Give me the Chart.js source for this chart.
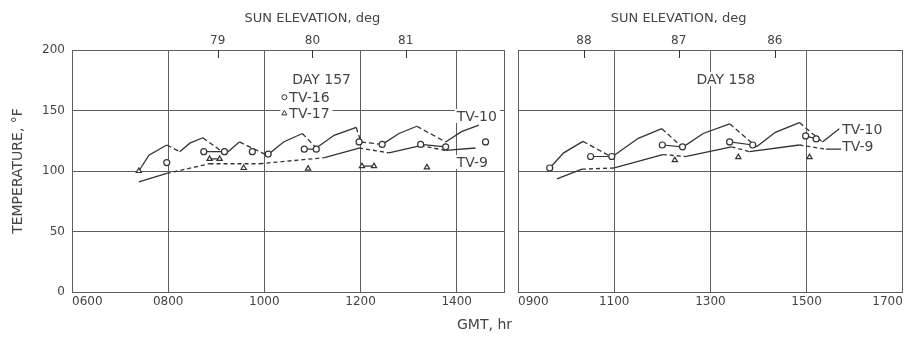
<!DOCTYPE html>
<html>
<head>
<meta charset="utf-8">
<script src="https://cdn.jsdelivr.net/npm/chart.js@4.4.0/dist/chart.umd.min.js"></script>
<style>
  body { margin: 0; background: #fff; }
  #wrap { position: relative; width: 908px; height: 337px; font-family: "DejaVu Sans", sans-serif; color: #444; }
  .panel { position: absolute; top: 0; height: 337px; }
  #gmt { position: absolute; left: 457px; top: 316px; font-size: 14px; }
</style>
</head>
<body>
<div id="wrap">
  <div class="panel" style="left:0;width:510px"><canvas id="day157" width="510" height="337"></canvas></div>
  <div class="panel" style="left:510px;width:398px"><canvas id="day158" width="398" height="337"></canvas></div>
  <div id="gmt">GMT, hr</div>
</div>
<script>
// GMT in hours (0800 -> 8). null temperature = no reading, bridged with a dashed line
const gmtTicks157 = [6, 8, 10, 12, 14];
const gmtTicks158 = [9, 11, 13, 15, 17];
const tempTicks = [0, 50, 100, 150, 200];

// sun elevation ticks (top axis)
const sunHours157 = [9.03, 11.0, 12.94];
const sunLabels157 = ['79', '80', '81'];
const sunHours158 = [10.37, 12.34, 14.34];
const sunLabels158 = ['88', '87', '86'];

// day 157
const tv10Hours157 = [7.39, 7.6, 7.97, 8.10, 8.24, 8.45, 8.72, 8.95, 9.19, 9.48, 9.77, 10.06, 10.4, 10.79, 10.93, 11.08, 11.45, 11.91, 11.96, 12.01, 12.23, 12.45, 12.8, 13.17, 13.47, 13.77, 14.1, 14.46];
const tv10Temps157 = [100, 113, 121.5, null, 116, 123, 127.5, null, 114, 124, null, 113, 124, 131, null, 119, 129.5, 136, null, 124, null, 122, 131, 137, null, 124, 132.5, 138];
const tv9Hours157 = [7.39, 7.97, 8.4, 8.86, 9.4, 9.9, 10.6, 11.25, 11.97, 12.28, 12.59, 13.25, 13.5, 13.77, 14.39];
const tv9Temps157 = [91, 98, null, 106, null, 106, null, 111, 119, null, 115, 121, null, 117, 119];
const tv16Hours157 = [7.97, null, 8.74, 9.17, null, 9.75, null, 10.08, null, 10.83, 11.08, null, 11.97, null, 12.45, null, 13.25, 13.77, null, 14.6];
const tv16Temps157 = [107, null, 116, 116, null, 116, null, 114, null, 118, 118, null, 124, null, 122, null, 122, 120, null, 124];
const tv17Hours157 = [7.39, null, 8.86, 9.07, null, 9.57, null, 10.91, null, 12.03, 12.28, null, 13.38];
const tv17Temps157 = [100, null, 110, 110, null, 102.5, null, 102, null, 104, 104, null, 103];

// day 158
const tv10Hours158 = [9.66, 9.95, 10.35, 10.65, 10.95, 11.5, 11.99, 12.2, 12.42, 12.85, 13.4, 13.68, 13.96, 14.35, 14.85, 15.1, 15.33, 15.68];
const tv10Temps158 = [102.5, 115, 124.5, null, 111.5, 127, 135, null, 119.5, 131, 139, null, 120, 132, 140, null, 124, 135];
const tv9Hours158 = [9.81, 10.33, 10.66, 11.0, 12.01, 12.25, 12.5, 13.44, 13.62, 13.81, 14.85, 15.1, 15.4, 15.72];
const tv9Temps158 = [93.5, 101.5, null, 102.5, 113.5, null, 112, 120, null, 116, 121.5, null, 118, 118];
const tv16Hours158 = [9.66, null, 10.51, 10.95, null, 12.0, 12.42, null, 13.4, 13.88, null, 14.98, 15.2];
const tv16Temps158 = [102.5, null, 112, 112, null, 121.5, 120, null, 124, 121.5, null, 129, 126.5];
const tv17Hours158 = [12.26, 13.58, 15.06];
const tv17Temps158 = [109, 111.5, 111.5];

const ink = '#333';
const gridInk = '#5e5e5e';
const textInk = '#444';
const font = '"DejaVu Sans", sans-serif';

const pts = (hours, temps) => hours.map((h, i) => ({ x: h, y: temps[i] }));
const hhmm = v => String(Math.round(v * 100)).padStart(4, '0');

// measured stretches solid, gaps between them dashed
function curve(hours, temps, dash) {
  const bridges = [];
  temps.forEach((t, i) => {
    if (t === null && i > 0 && i < temps.length - 1) {
      bridges.push({ x: hours[i - 1], y: temps[i - 1] }, { x: hours[i + 1], y: temps[i + 1] }, { x: hours[i], y: null });
    }
  });
  const base = { borderColor: ink, borderWidth: 1.3, pointRadius: 0, tension: 0, spanGaps: false };
  return [
    Object.assign({ data: pts(hours, temps) }, base),
    Object.assign({ data: bridges, borderDash: dash }, base)
  ];
}
function marks(hours, temps, style, joined) {
  return {
    data: pts(hours, temps), borderColor: ink, borderWidth: 1.2, backgroundColor: '#fff',
    pointStyle: style, pointRadius: 3, pointBorderWidth: 1.2, showLine: joined, spanGaps: false
  };
}

const decor = {
  id: 'decor',
  beforeDatasetsDraw(chart, args, o) {
    const { ctx, chartArea } = chart;
    const { x, y, x2 } = chart.scales;
    ctx.save();
    ctx.strokeStyle = ink;
    ctx.lineWidth = 1;
    x2.ticks.forEach(t => {
      const px = Math.round(x2.getPixelForValue(t.value)) + 0.5;
      ctx.beginPath();
      ctx.moveTo(px, chartArea.top);
      ctx.lineTo(px, chartArea.top + 8);
      ctx.stroke();
    });
    ctx.fillStyle = textInk;
    ctx.font = '13px ' + font;
    ctx.textAlign = 'center';
    ctx.textBaseline = 'middle';
    ctx.fillText('SUN ELEVATION, deg', x2.getPixelForValue(o.sunCenter), 19);

    ctx.font = '14px ' + font;
    ctx.textAlign = 'left';
    o.notes.forEach(n => {
      const px = x.getPixelForValue(n.x);
      const py = y.getPixelForValue(n.y);
      const w = ctx.measureText(n.text).width;
      const left = n.symbol ? px - 9 : px - 2;
      ctx.fillStyle = '#fff';
      ctx.fillRect(left, py - 7, px + w + 3 - left, 14);
      ctx.fillStyle = textInk;
      ctx.fillText(n.text, px, py + 1);
      if (n.symbol) {
        ctx.beginPath();
        if (n.symbol === 'circle') {
          ctx.arc(px - 5, py, 2.5, 0, Math.PI * 2);
        } else {
          ctx.moveTo(px - 5, py - 2.5);
          ctx.lineTo(px - 2.5, py + 2);
          ctx.lineTo(px - 7.5, py + 2);
          ctx.closePath();
        }
        ctx.stroke();
      }
    });
    ctx.restore();
  }
};

function build(id, cfg) {
  const min = cfg.gmt[0];
  const max = cfg.max;
  new Chart(document.getElementById(id), {
    type: 'line',
    data: { datasets: cfg.datasets },
    plugins: [decor],
    options: {
      responsive: false,
      animation: false,
      events: [],
      layout: { padding: { left: 0, right: 5, top: 0, bottom: 0 } },
      plugins: { legend: { display: false }, tooltip: { enabled: false }, decor: cfg.decor },
      scales: {
        x: {
          type: 'linear', position: 'bottom', min: min, max: max,
          afterBuildTicks: s => { s.ticks = [...new Set([...cfg.gmt, max])].map(v => ({ value: v })); },
          ticks: {
            autoSkip: false, maxRotation: 0, align: 'inner', padding: 3, color: textInk,
            font: { family: font, size: 12 },
            callback: v => cfg.gmt.includes(v) ? hhmm(v) : ''
          },
          grid: { color: gridInk, lineWidth: 1, drawTicks: false },
          border: { display: true, color: gridInk },
          afterFit: s => { s.height = 45; }
        },
        x2: {
          type: 'linear', position: 'top', min: min, max: max,
          afterBuildTicks: s => { s.ticks = cfg.sun.map(v => ({ value: v })); },
          ticks: {
            autoSkip: false, maxRotation: 0, padding: 2, color: textInk,
            font: { family: font, size: 12 },
            callback: (v, i) => cfg.sunLabels[i]
          },
          grid: { display: false, drawTicks: false },
          border: { display: false },
          afterFit: s => { s.height = 50; }
        },
        y: {
          type: 'linear', min: 0, max: 200,
          afterBuildTicks: s => { s.ticks = tempTicks.map(v => ({ value: v })); },
          ticks: { display: cfg.yLabels, padding: 7, color: textInk, font: { family: font, size: 12 } },
          grid: { color: gridInk, lineWidth: 1, drawTicks: false },
          border: { display: true, color: gridInk },
          title: {
            display: cfg.yLabels, text: 'TEMPERATURE, °F', color: textInk,
            font: { family: font, size: 14 }, padding: { top: 10, bottom: 0 }
          },
          afterFit: s => { s.width = cfg.yWidth; }
        }
      }
    }
  });
}

build('day157', {
  gmt: gmtTicks157, max: 15, sun: sunHours157, sunLabels: sunLabels157, yLabels: true, yWidth: 72,
  datasets: [
    marks(tv16Hours157, tv16Temps157, 'circle', true),
    marks(tv17Hours157, tv17Temps157, 'triangle', true),
    ...curve(tv10Hours157, tv10Temps157, [5, 3]),
    ...curve(tv9Hours157, tv9Temps157, [4, 3])
  ],
  decor: {
    sunCenter: sunHours157[1],
    notes: [
      { text: 'DAY 157', x: 10.58, y: 176 },
      { text: 'TV-16', x: 10.52, y: 161, symbol: 'circle' },
      { text: 'TV-17', x: 10.52, y: 148, symbol: 'triangle' },
      { text: 'TV-10', x: 14.0, y: 145.5 },
      { text: 'TV-9', x: 14.0, y: 107.5 }
    ]
  }
});

build('day158', {
  gmt: gmtTicks158, max: 17, sun: sunHours158, sunLabels: sunLabels158, yLabels: false, yWidth: 8,
  datasets: [
    marks(tv16Hours158, tv16Temps158, 'circle', true),
    marks(tv17Hours158, tv17Temps158, 'triangle', false),
    ...curve(tv10Hours158, tv10Temps158, [5, 3]),
    ...curve(tv9Hours158, tv9Temps158, [4, 3])
  ],
  decor: {
    sunCenter: sunHours158[1],
    notes: [
      { text: 'DAY 158', x: 12.71, y: 176 },
      { text: 'TV-10', x: 15.74, y: 134.5 },
      { text: 'TV-9', x: 15.74, y: 120 }
    ]
  }
});
</script>
</body>
</html>
